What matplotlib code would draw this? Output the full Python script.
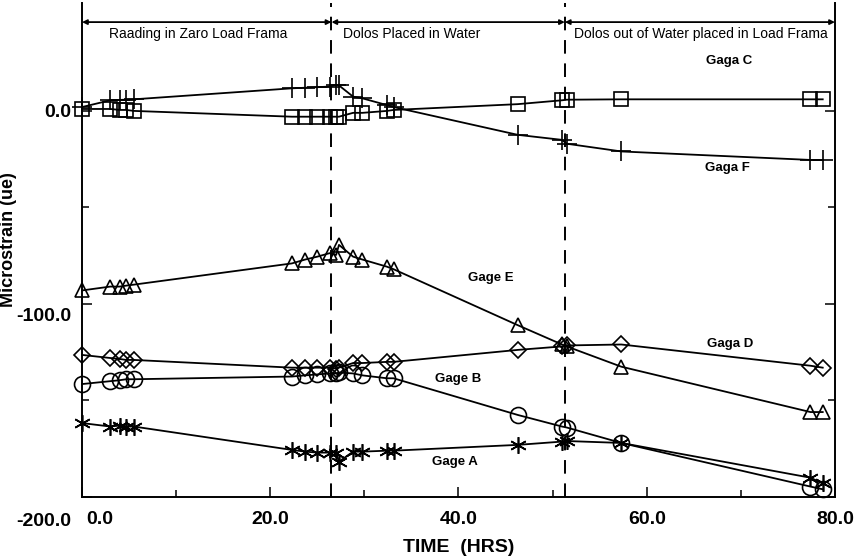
import numpy as np
import matplotlib
matplotlib.use("Agg")
import matplotlib.pyplot as plt
from matplotlib.ticker import MultipleLocator, FixedLocator
from matplotlib.transforms import ScaledTranslation

plt.rcParams['font.family'] = ['Liberation Sans', 'DejaVu Sans']

# ── Data ───────────────────────────────────────────────────────
hours = [0.0, 3.0, 4.0, 4.7, 5.5, 22.3, 23.7, 25.0, 26.3, 27.0, 27.3,
         28.8, 29.8, 32.4, 33.1, 46.3, 51.0, 51.5, 57.3, 77.4, 78.7]

gage_c = [1, 1, 0.5, 0.5, 0, -3, -3, -3, -3, -3, -3,
          -1, -1, 0, 0.5, 3.5, 5.5, 5.8, 6, 6, 6]
gage_f = [2, 5.5, 5.7, 5.8, 6, 11.7, 12, 12.3, 12.6, 13.5, 13.2,
          7.4, 6.5, 3, 2, -12.4, -15, -17, -21, -25.4, -25.5]
gage_e = [-93, -91, -91, -90.5, -90, -79, -77, -75.5, -73.7, -74.6, -69.4,
          -75.5, -77, -80.7, -82, -111, -121, -122, -132.5, -156, -156]
gage_d = [-126.4, -128, -128.5, -129, -129, -133, -133, -133, -133, -133.5, -133,
          -130.6, -130.6, -130, -130, -123.8, -122, -121.5, -121, -132, -133]
gage_b = [-141.5, -140, -139.5, -139, -139, -137.6, -137, -136.5, -136, -136, -135.5,
          -136, -137, -138.5, -138.5, -157.5, -163.5, -164, -172, -194.6, -196]
gage_a = [-161.7, -163.5, -163, -163.5, -163.5, -175.6, -176.5, -177, -177, -177, -181.7,
          -176.5, -176.5, -176, -176, -173, -171.3, -171, -172, -190, -193]

phase_breaks = [26.5, 51.3]
phase_names = ["Raading in Zaro Load Frama", "Dolos Placed in Water",
               "Dolos out of Water placed in Load Frama"]
phase_text_x = [12.3, 35.0, 65.8]

x_ticks = [0, 20, 40, 60, 80]
x_ticklabels = ["0.0", "20.0", "40.0", "60.0", "80.0"]
y_ticks = [0, -100, -200]
y_ticklabels = ["0.0", "-100.0", "-200.0"]

series = [
    ("Gaga C", gage_c, 's', 9.5, (68.8, 26.0)),
    ("Gaga F", gage_f, '+', 14, (68.6, -29.5)),
    ("Gage E", gage_e, '^', 10.5, (43.4, -86.5)),
    ("Gaga D", gage_d, 'D', 8.5, (68.9, -121.0)),
    ("Gage B", gage_b, 'o', 11.5, (40.0, -139.0)),
    ("Gage A", gage_a, (6, 2, 0), 12, (39.6, -182.0)),
]

# ── Plot ────────────────────────────────────────────────────────
fig = plt.figure(figsize=(8.59, 5.6), dpi=100)
ax = fig.add_axes([0.0955, 0.1125, 0.8765, 0.8825])

for name, vals, mk, ms, (tx, ty) in series:
    ax.plot(hours, vals, color='black', linewidth=1.3, marker=mk, markersize=ms,
            markerfacecolor='none', markeredgecolor='black', markeredgewidth=1.2,
            clip_on=False, zorder=3)
    ax.text(tx, ty, name, fontsize=9.5, fontweight='bold', ha='center', va='center')

# phase separators and arrows
for xb in phase_breaks:
    ax.axvline(xb, color='black', linestyle=(0, (7, 5)), linewidth=1.4)
edges = [0.0] + phase_breaks + [80.0]
for i in range(3):
    ax.annotate("", xy=(edges[i + 1], 46), xytext=(edges[i], 46),
                arrowprops=dict(arrowstyle='<|-|>', color='black', lw=1.3,
                                mutation_scale=7, shrinkA=0, shrinkB=0))
    ax.text(phase_text_x[i], 40, phase_names[i], fontsize=10, ha='center', va='center')

ax.set_xlim(0, 80)
ax.set_ylim(-200, 56)
ax.spines['top'].set_visible(False)
for s in ['left', 'right', 'bottom']:
    ax.spines[s].set_linewidth(1.4)

ax.xaxis.set_major_locator(FixedLocator(x_ticks))
ax.xaxis.set_minor_locator(MultipleLocator(10))
ax.set_xticklabels(x_ticklabels, fontweight='bold')
ax.yaxis.set_major_locator(FixedLocator(y_ticks))
ax.yaxis.set_minor_locator(FixedLocator([-50, -150]))
ax.set_yticklabels(y_ticklabels, fontweight='bold')
ax.tick_params(which='both', direction='in', right=True, labelsize=14, width=1.1)
ax.tick_params(which='major', length=7)
ax.tick_params(which='minor', length=5)
ax.tick_params(axis='x', pad=10)
ax.tick_params(axis='y', pad=8)

# the scan has the labels nudged off their ticks
y_shift_px = [0, 11, 23]
for lab, d in zip(ax.get_yticklabels(), y_shift_px):
    lab.set_transform(lab.get_transform() + ScaledTranslation(0, -d / 100, fig.dpi_scale_trans))
first_x = ax.get_xticklabels()[0]
first_x.set_transform(first_x.get_transform() + ScaledTranslation(0.18, 0, fig.dpi_scale_trans))

ax.set_xlabel("TIME  (HRS)", fontsize=14, fontweight='bold', labelpad=8)
ax.set_ylabel("Microstrain (ue)", fontsize=13, fontweight='bold')
ax.yaxis.set_label_coords(-0.087, 0.52)

plt.savefig("out.png", dpi=100)
